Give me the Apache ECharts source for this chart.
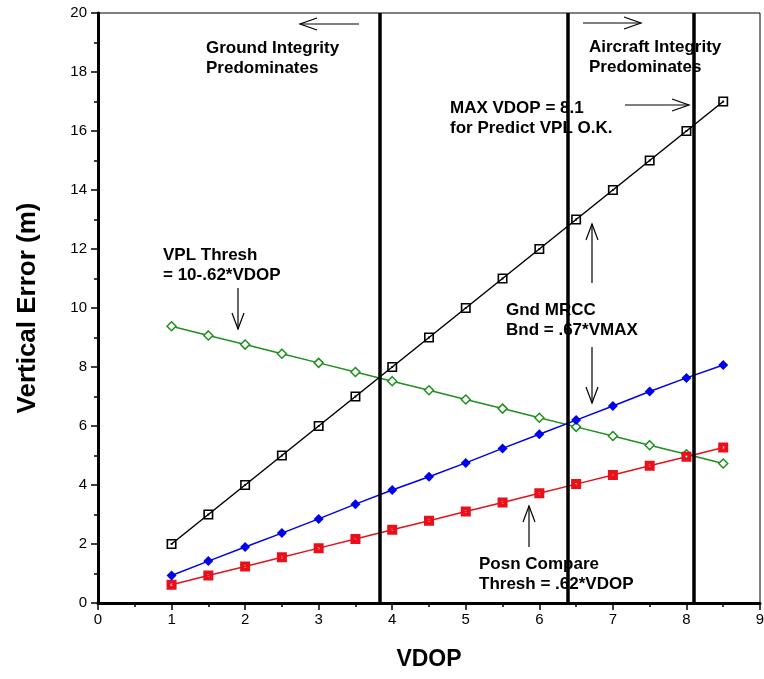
<!DOCTYPE html>
<html>
<head>
<meta charset="utf-8">
<script src="https://cdn.jsdelivr.net/npm/echarts@6/dist/echarts.min.js"></script>
<style>
html,body{margin:0;padding:0;background:#fff;}
#chart{width:764px;height:679px;}
</style>
</head>
<body>
<div id="chart"></div>
<script>
// ---- Data ----
var vdop = [1, 1.5, 2, 2.5, 3, 3.5, 4, 4.5, 5, 5.5, 6, 6.5, 7, 7.5, 8, 8.5];
var gndMrcc = [2, 3, 4, 5, 6, 7, 8, 9, 10, 11, 12, 13, 14, 15, 16, 17];
var blueSeries = [0.93, 1.42, 1.9, 2.37, 2.85, 3.35, 3.83, 4.28, 4.75, 5.24, 5.72, 6.2, 6.68, 7.17, 7.63, 8.07];
var posnCompare = [0.62, 0.93, 1.24, 1.55, 1.86, 2.17, 2.48, 2.79, 3.1, 3.41, 3.72, 4.03, 4.34, 4.65, 4.96, 5.27];
var vplThresh = [9.38, 9.07, 8.76, 8.45, 8.14, 7.83, 7.52, 7.21, 6.9, 6.59, 6.28, 5.97, 5.66, 5.35, 5.04, 4.73];
var boundaryLines = [3.83, 6.39, 8.1];
var xTicks = [0, 9, 1];
var yTicks = [0, 20, 2];

function pairs(xs, ys) { return xs.map(function (x, i) { return [x, ys[i]]; }); }

var FONT = '"Liberation Sans", Arial, sans-serif';
var sqHollow = 'path://M0,0H10V10H0Z M1.6,1.6V8.4H8.4V1.6Z M4.1,4.1H5.9V5.9H4.1Z';
var sqRed = 'path://M0,0H10V10H0Z M4,4V6H6V4Z';

function txt(x, y, s) {
  return { type: 'text', left: x, top: y, z: 1, silent: true,
    style: { text: s, font: 'bold 17px ' + FONT, fill: '#000', lineHeight: 20 } };
}
function line(pts) {
  return { type: 'polyline', z: 1, silent: true, shape: { points: pts },
    style: { stroke: '#000', lineWidth: 1.2, fill: null } };
}
function arrowH(x1, x2, y) {
  var d = x2 > x1 ? -1 : 1;
  return [line([[x1, y], [x2, y]]), line([[x2 + d * 17, y - 6], [x2, y], [x2 + d * 17, y + 6]])];
}
function arrowV(x, y1, y2) {
  var d = y2 > y1 ? -1 : 1;
  return [line([[x, y1], [x, y2]]), line([[x - 6, y2 + d * 16], [x, y2], [x + 6, y2 + d * 16]])];
}

var graphics = [
  txt(206, 38, 'Ground Integrity\nPredominates'),
  txt(589, 37, 'Aircraft Integrity\nPredominates'),
  txt(450, 98, 'MAX VDOP = 8.1\nfor Predict VPL O.K.'),
  txt(163, 245, 'VPL Thresh\n= 10-.62*VDOP'),
  txt(506, 300, 'Gnd MRCC\nBnd = .67*VMAX'),
  txt(479, 554, 'Posn Compare\nThresh = .62*VDOP')
].concat(arrowH(359, 300, 24), arrowH(583, 641, 23), arrowH(625, 689, 105),
  arrowV(238, 288, 329), arrowV(592, 283, 224), arrowV(592, 347, 403), arrowV(529, 547, 506));

var chart = echarts.init(document.getElementById('chart'));
chart.setOption({
  animation: false,
  backgroundColor: '#fff',
  grid: { left: 98, right: 4, top: 13, bottom: 76, show: true, borderColor: '#000', borderWidth: 1,
    containLabel: false, outerBoundsMode: 'none' },
  xAxis: {
    type: 'value', min: xTicks[0], max: xTicks[1], interval: xTicks[2],
    name: 'VDOP', nameLocation: 'middle', nameGap: 45,
    nameTextStyle: { fontFamily: FONT, fontWeight: 'bold', fontSize: 23, color: '#000' },
    axisLine: { show: true, lineStyle: { color: '#000', width: 3 } },
    axisTick: { show: true, length: 7, lineStyle: { color: '#000', width: 1.5 } },
    minorTick: { show: true, splitNumber: 2, length: 4, lineStyle: { color: '#000', width: 1.5 } },
    axisLabel: { fontFamily: FONT, fontSize: 15, color: '#000', margin: 9 },
    splitLine: { show: false }
  },
  yAxis: {
    type: 'value', min: yTicks[0], max: yTicks[1], interval: yTicks[2],
    name: 'Vertical Error (m)', nameLocation: 'middle', nameGap: 57,
    nameTextStyle: { fontFamily: FONT, fontWeight: 'bold', fontSize: 26, color: '#000' },
    axisLine: { show: true, lineStyle: { color: '#000', width: 3 } },
    axisTick: { show: true, length: 7, lineStyle: { color: '#000', width: 1.5 } },
    minorTick: { show: true, splitNumber: 2, length: 4, lineStyle: { color: '#000', width: 1.5 } },
    axisLabel: { fontFamily: FONT, fontSize: 15, color: '#000', margin: 11 },
    splitLine: { show: false }
  },
  graphic: graphics,
  series: [
    { type: 'line', data: pairs(vdop, vplThresh), symbol: 'diamond', symbolSize: 9, z: 3,
      lineStyle: { color: '#1f8f1f', width: 1.5 },
      itemStyle: { color: '#fff', borderColor: '#1f8f1f', borderWidth: 1.5 } },
    { type: 'line', data: pairs(vdop, posnCompare), symbol: sqRed, symbolSize: 10, z: 3,
      lineStyle: { color: '#e8101a', width: 1.5 },
      itemStyle: { color: '#e8101a' } },
    { type: 'line', data: pairs(vdop, blueSeries), symbol: 'diamond', symbolSize: 10, z: 3,
      lineStyle: { color: '#0000ee', width: 1.5 },
      itemStyle: { color: '#0000ee' } },
    { type: 'line', data: pairs(vdop, gndMrcc), symbol: sqHollow, symbolSize: 10, z: 3,
      lineStyle: { color: '#000', width: 1.5 },
      itemStyle: { color: '#000' } },
    { type: 'line', data: [], z: 4,
      markLine: { silent: true, symbol: ['none', 'none'], label: { show: false },
        lineStyle: { color: '#000', width: 3.5, type: 'solid' },
        data: boundaryLines.map(function (v) { return { xAxis: v }; }) } }
  ]
});
</script>
</body>
</html>
